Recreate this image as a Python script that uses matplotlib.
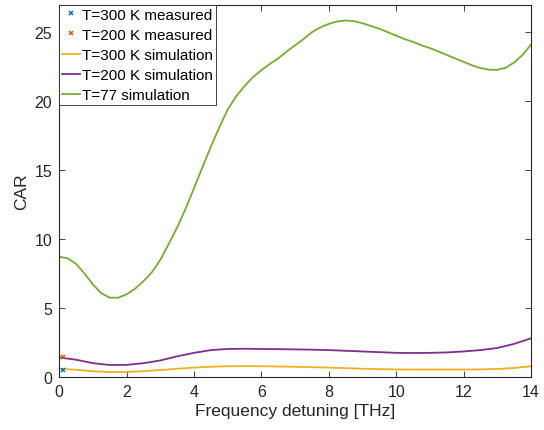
import numpy as np
import matplotlib
matplotlib.use('Agg')
import matplotlib.pyplot as plt

plt.rcParams['font.family'] = ['Liberation Sans', 'DejaVu Sans']

# frequency detuning grids [THz]
freq_coarse = np.arange(0, 14.01, 0.5)
freq_fine = np.arange(0, 14.01, 0.25)

car_300k = [0.60, 0.52, 0.42, 0.36, 0.36, 0.42, 0.50, 0.60, 0.68, 0.74,
            0.78, 0.79, 0.78, 0.76, 0.74, 0.71, 0.68, 0.64, 0.60, 0.57,
            0.55, 0.54, 0.54, 0.54, 0.54, 0.55, 0.58, 0.65, 0.78]
car_200k = [1.42, 1.25, 1.00, 0.87, 0.88, 1.00, 1.20, 1.50, 1.75, 1.95,
            2.03, 2.05, 2.03, 2.02, 2.00, 1.98, 1.95, 1.90, 1.85, 1.80,
            1.75, 1.74, 1.75, 1.78, 1.85, 1.95, 2.10, 2.40, 2.80]
car_77k = [8.72, 8.60, 8.20, 7.50, 6.70, 6.07, 5.75, 5.75, 6.00, 6.40,
           6.95, 7.60, 8.50, 9.65, 10.85, 12.2, 13.7, 15.2, 16.7, 18.1,
           19.4, 20.35, 21.1, 21.75, 22.25, 22.7, 23.1, 23.6, 24.05, 24.5,
           25.0, 25.35, 25.6, 25.78, 25.85, 25.8, 25.65, 25.45, 25.25, 25.0,
           24.75, 24.5, 24.3, 24.05, 23.85, 23.6, 23.35, 23.1, 22.85, 22.6,
           22.4, 22.28, 22.27, 22.42, 22.8, 23.35, 24.1]

meas_x = [0.1]
meas_300k = [0.5]
meas_200k = [1.45]

fig = plt.figure(figsize=(5.44, 4.31), dpi=100)
ax = fig.add_axes([0.109, 0.123, 0.867, 0.864])

ax.plot(meas_x, meas_300k, 'x', color='#0072BD', ms=3.5, mew=1.1, zorder=4, label='T=300 K measured')
ax.plot(meas_x, meas_200k, 'x', color='#D95319', ms=3.5, mew=1.1, zorder=4, label='T=200 K measured')
ax.plot(freq_coarse, car_300k, color='#EDB120', lw=1.3, label='T=300 K simulation')
ax.plot(freq_coarse, car_200k, color='#7E2F8E', lw=1.3, label='T=200 K simulation')
ax.plot(freq_fine, car_77k, color='#77AC30', lw=1.3, label='T=77 simulation')

ax.set_xlim(0, 14)
ax.set_ylim(0, 27)
ax.set_xticks(range(0, 15, 2))
ax.set_yticks(range(0, 26, 5))
ax.tick_params(direction='in', top=True, right=True, labelsize=11.5,
               colors='#262626', length=4, width=0.6, pad=5)
for s in ax.spines.values():
    s.set_color('#262626')
    s.set_linewidth(0.8)
ax.set_xlabel('Frequency detuning [THz]', fontsize=12.5, color='#262626', labelpad=3)
ax.set_ylabel('CAR', fontsize=12.5, color='#262626', labelpad=4)

leg = ax.legend(loc='upper left', fontsize=11, handlelength=1.15, handletextpad=0.15,
                borderpad=0.2, labelspacing=0.4, borderaxespad=0,
                fancybox=False, framealpha=1)
leg.get_frame().set_edgecolor('#262626')
leg.get_frame().set_linewidth(0.6)

fig.savefig('out.png', dpi=100)
